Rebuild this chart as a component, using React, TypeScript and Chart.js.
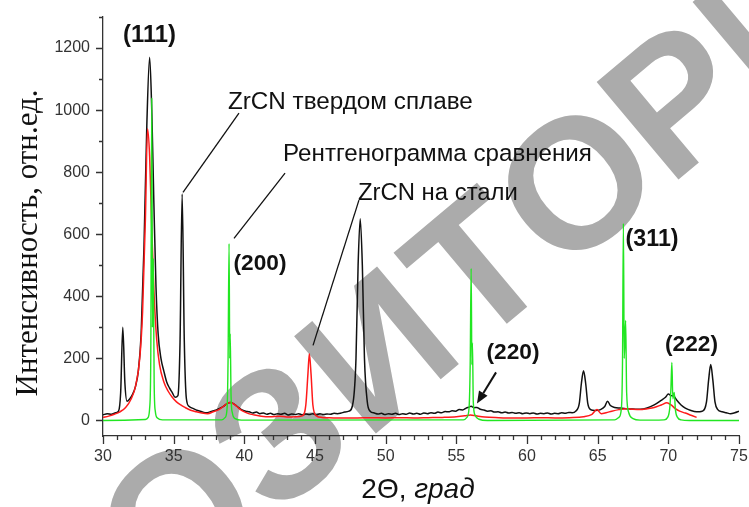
import React, { useEffect, useRef } from 'react';
import { Chart, registerables } from 'chart.js';

Chart.register(...registerables);

// ---------- axis ranges / ticks ----------
const X_MIN = 30;
const X_MAX = 75;
const Y_MIN = -50;
const Y_MAX = 1300;
const xTickValues = [30, 31, 32, 33, 34, 35, 36, 37, 38, 39, 40, 41, 42, 43, 44, 45, 46, 47, 48, 49, 50, 51, 52, 53, 54, 55, 56, 57, 58, 59, 60, 61, 62, 63, 64, 65, 66, 67, 68, 69, 70, 71, 72, 73, 74, 75];
const xLabelTicks = [30, 35, 40, 45, 50, 55, 60, 65, 70, 75];
const yTickValues = [0, 100, 200, 300, 400, 500, 600, 700, 800, 900, 1000, 1100, 1200, 1300];
const yLabelTicks = [0, 200, 400, 600, 800, 1000, 1200];

// ---------- titles ----------
const xTitleMain = '2Θ, ';
const xTitleUnit = 'град';
const yTitle = 'Интенсивность, отн.ед.';

// ---------- series: ZrCN на твердом сплаве (black), [2Θ, intensity] ----------
const hardAlloy: [number, number][] = [
  [30.0, 18], [30.3, 22], [30.6, 20], [30.9, 25], [31.1, 30], [31.25, 90], [31.4, 300], [31.55, 120], [31.7, 62],
  [31.9, 70], [32.1, 85], [32.3, 110], [32.5, 160], [32.7, 280], [32.9, 560], [33.1, 950], [33.3, 1170], [33.45, 1000],
  [33.6, 700], [33.75, 430], [33.9, 280], [34.1, 200], [34.3, 160], [34.5, 125], [34.7, 105], [34.9, 90], [35.1, 75],
  [35.3, 80], [35.45, 250], [35.6, 730], [35.75, 260], [35.9, 70], [36.1, 45], [36.4, 38], [36.7, 32], [37.0, 28],
  [37.3, 25], [37.6, 28], [37.9, 32], [38.2, 38], [38.5, 45], [38.8, 55], [39.0, 58], [39.2, 55], [39.5, 45], [39.8, 35],
  [40.1, 30], [40.35, 28], [40.6, 24], [40.85, 27], [41.1, 22], [41.35, 24], [41.6, 20], [41.85, 23], [42.1, 19],
  [42.35, 22], [42.6, 20], [42.85, 23], [43.1, 18], [43.35, 21], [43.6, 19], [43.85, 22], [44.1, 18], [44.35, 21],
  [44.6, 19], [44.85, 22], [45.1, 18], [45.35, 22], [45.6, 19], [45.85, 21], [46.1, 20], [46.35, 23], [46.6, 22],
  [46.85, 24], [47.1, 27], [47.4, 30], [47.7, 60], [47.9, 200], [48.05, 500], [48.2, 650], [48.35, 500], [48.5, 200],
  [48.7, 60], [48.9, 30], [49.2, 24], [49.45, 21], [49.7, 23], [49.95, 19], [50.2, 22], [50.45, 20], [50.7, 23],
  [50.95, 19], [51.2, 22], [51.45, 20], [51.7, 24], [51.95, 21], [52.2, 23], [52.45, 20], [52.7, 24], [52.95, 22],
  [53.2, 25], [53.45, 23], [53.7, 27], [53.95, 25], [54.2, 29], [54.45, 28], [54.7, 31], [54.95, 30], [55.2, 35],
  [55.45, 34], [55.7, 40], [55.9, 43], [56.05, 46], [56.25, 41], [56.45, 42], [56.7, 36], [56.95, 34], [57.2, 30],
  [57.45, 31], [57.7, 27], [57.95, 28], [58.2, 25], [58.45, 27], [58.7, 24], [58.95, 26], [59.2, 23], [59.45, 25],
  [59.7, 22], [59.95, 24], [60.2, 22], [60.45, 24], [60.7, 21], [60.95, 23], [61.2, 22], [61.45, 24], [61.7, 21],
  [61.95, 23], [62.2, 22], [62.45, 25], [62.7, 23], [62.95, 26], [63.2, 25], [63.45, 30], [63.7, 55], [63.85, 120],
  [64.0, 160], [64.15, 120], [64.3, 55], [64.5, 35], [64.8, 32], [65.2, 35], [65.5, 45], [65.7, 62], [65.9, 48],
  [66.2, 42], [66.6, 40], [67.0, 38], [67.5, 37], [68.0, 36], [68.5, 40], [69.0, 50], [69.5, 65], [69.8, 75],
  [70.0, 85], [70.2, 80], [70.4, 78], [70.6, 65], [70.9, 50], [71.2, 40], [71.6, 32], [72.0, 28], [72.4, 30],
  [72.7, 60], [72.85, 130], [73.0, 180], [73.15, 130], [73.3, 60], [73.5, 35], [73.8, 28], [74.1, 25], [74.4, 22],
  [74.7, 25], [75.0, 30],
];

// ---------- series: ZrCN на стали (red) ----------
const steel: [number, number][] = [
  [30.0, 10], [30.4, 14], [30.8, 20], [31.2, 28], [31.6, 42], [32.0, 70], [32.3, 110], [32.6, 200], [32.8, 350],
  [33.0, 650], [33.15, 940], [33.3, 850], [33.45, 620], [33.6, 420], [33.8, 260], [34.0, 180], [34.3, 125], [34.6, 95],
  [34.9, 75], [35.2, 60], [35.5, 50], [35.8, 42], [36.2, 33], [36.6, 28], [37.0, 24], [37.4, 22], [37.8, 28], [38.2, 35],
  [38.5, 45], [38.8, 55], [39.0, 58], [39.3, 52], [39.6, 40], [39.9, 30], [40.3, 22], [40.7, 18], [41.2, 14], [41.8, 12],
  [42.5, 14], [43.0, 11], [43.6, 12], [44.1, 15], [44.35, 50], [44.5, 150], [44.6, 215], [44.72, 150], [44.85, 50],
  [45.1, 15], [45.5, 10], [46.0, 9], [47.0, 8], [48.0, 8], [49.0, 9], [50.0, 8], [51.0, 9], [52.0, 8], [53.0, 9],
  [54.0, 10], [55.0, 12], [55.6, 15], [56.0, 18], [56.4, 15], [57.0, 11], [58.0, 9], [59.0, 8], [60.0, 8], [61.0, 9],
  [62.0, 8], [63.0, 9], [64.0, 12], [64.6, 20], [64.95, 35], [65.25, 22], [65.6, 25], [66.0, 30], [66.5, 35], [67.0, 38],
  [67.5, 36], [68.0, 35], [68.5, 38], [69.0, 42], [69.5, 50], [69.9, 57], [70.2, 50], [70.5, 38], [70.8, 30], [71.2, 24],
  [71.6, 17], [72.0, 10],
];

// ---------- series: Рентгенограмма сравнения (green) ----------
const reference: [number, number][] = [
  [30.0, 0], [33.0, 3], [33.2, 10], [33.3, 40], [33.38, 200], [33.45, 1040], [33.5, 300], [33.55, 520], [33.62, 120],
  [33.7, 30], [33.85, 8], [34.2, 2], [38.4, 2], [38.65, 10], [38.78, 40], [38.85, 200], [38.92, 570], [38.97, 200],
  [39.0, 280], [39.06, 80], [39.15, 25], [39.35, 6], [39.8, 1], [55.5, 2], [55.75, 10], [55.9, 40], [55.98, 180],
  [56.05, 490], [56.1, 180], [56.14, 250], [56.2, 60], [56.32, 18], [56.6, 4], [57.2, 0], [66.2, 2], [66.5, 10],
  [66.68, 40], [66.76, 200], [66.82, 635], [66.88, 200], [66.98, 322], [67.05, 90], [67.2, 25], [67.5, 6], [68.0, 1],
  [69.7, 2], [69.95, 10], [70.1, 40], [70.18, 100], [70.25, 187], [70.32, 70], [70.42, 90], [70.5, 35], [70.65, 10],
  [70.9, 2], [71.5, 0], [75.0, 0],
];

// ---------- annotations ----------
const peakLabels = ['(111)', '(200)', '(220)', '(311)', '(222)'];
const peakLabelX = [33.29, 41.11, 59.01, 68.85, 71.64];
const peakLabelY = [1242, 506, 219, 584, 245];

const calloutTexts = ['ZrCN твердом сплаве', 'Рентгенограмма сравнения', 'ZrCN на стали'];
const calloutTextX = [38.84, 42.74, 48.04];
const calloutTextY = [1003, 835, 710];
const calloutLineFromX = [39.62, 42.88, 48.11];
const calloutLineFromY = [990, 797, 710];
const calloutLineToX = [35.66, 39.27, 44.86];
const calloutLineToY = [735, 587, 242];

const arrowFromX = 57.81;
const arrowFromY = 155;
const arrowToX = 56.46;
const arrowToY = 55;

const watermarkText = 'РЕПОЗИТОРИЙ';

const toPoints = (pairs: [number, number][]) => pairs.map(([x, y]) => ({ x, y }));

const SANS = '"Liberation Sans", Arial, sans-serif';
const SERIF = '"Liberation Serif", "Times New Roman", serif';

function fitSize(ctx: CanvasRenderingContext2D, text: string, prefix: string, family: string, targetW: number) {
  ctx.font = `${prefix} 100px ${family}`;
  const w = ctx.measureText(text).width;
  return (100 * targetW) / w;
}

const overlayPlugin = {
  id: 'overlay',
  beforeDraw(chart: any) {
    const { ctx } = chart;
    ctx.save();
    ctx.font = `bold 185px ${SANS}`;
    ctx.textAlign = 'center';
    ctx.textBaseline = 'middle';
    ctx.lineJoin = 'round';
    ctx.lineWidth = 4;
    ctx.strokeStyle = '#ffffff';
    ctx.fillStyle = '#ababab';
    const ang = (40 * Math.PI) / 180;
    const step = 130;
    const zIndex = watermarkText.indexOf('З');
    Array.from(watermarkText).forEach((ch, i) => {
      const d = (i - zIndex) * step;
      const cx = 280 + d * Math.cos(ang);
      const cy = 437 - d * Math.sin(ang);
      ctx.save();
      ctx.translate(cx, cy);
      ctx.rotate(-ang);
      ctx.strokeText(ch, 0, 8);
      ctx.fillText(ch, 0, 8);
      ctx.restore();
    });
    ctx.restore();
  },
  beforeDatasetsDraw(chart: any) {
    const { ctx, scales } = chart;
    const xs = scales.x;
    const ys = scales.y;
    const area = chart.chartArea;
    ctx.save();
    ctx.strokeStyle = '#333';
    ctx.lineWidth = 1.3;
    ctx.beginPath();
    yTickValues.forEach((v) => {
      const p = Math.round(ys.getPixelForValue(v)) + 0.5;
      const len = v % 200 === 0 ? 7 : 4;
      ctx.moveTo(area.left - len, p);
      ctx.lineTo(area.left, p);
    });
    xTickValues.forEach((v) => {
      const p = Math.round(xs.getPixelForValue(v)) + 0.5;
      const len = v % 5 === 0 ? 8 : 4;
      ctx.moveTo(p, area.bottom);
      ctx.lineTo(p, area.bottom + len);
    });
    ctx.stroke();
    ctx.restore();
  },
  afterDatasetsDraw(chart: any) {
    const { ctx, scales } = chart;
    const xs = scales.x;
    const ys = scales.y;
    const X = (v: number) => xs.getPixelForValue(v);
    const Y = (v: number) => ys.getPixelForValue(v);
    ctx.save();
    ctx.fillStyle = '#111';
    ctx.strokeStyle = '#111';

    ctx.textAlign = 'center';
    ctx.textBaseline = 'middle';
    peakLabels.forEach((t, i) => {
      const s = fitSize(ctx, t, 'bold', SANS, 53);
      ctx.font = `bold ${s}px ${SANS}`;
      ctx.fillText(t, X(peakLabelX[i]), Y(peakLabelY[i]));
    });

    const calloutWidths = [245, 309, 160];
    ctx.textAlign = 'left';
    ctx.textBaseline = 'alphabetic';
    calloutTexts.forEach((t, i) => {
      const s = fitSize(ctx, t, '', SANS, calloutWidths[i]);
      ctx.font = `${s}px ${SANS}`;
      ctx.fillText(t, X(calloutTextX[i]), Y(calloutTextY[i]));
      ctx.lineWidth = 1.3;
      ctx.beginPath();
      ctx.moveTo(X(calloutLineFromX[i]), Y(calloutLineFromY[i]));
      ctx.lineTo(X(calloutLineToX[i]), Y(calloutLineToY[i]));
      ctx.stroke();
    });

    const ax0 = X(arrowFromX), ay0 = Y(arrowFromY);
    const ax1 = X(arrowToX), ay1 = Y(arrowToY);
    const ang = Math.atan2(ay1 - ay0, ax1 - ax0);
    const headLen = 12;
    const bx = ax1 - headLen * Math.cos(ang);
    const by = ay1 - headLen * Math.sin(ang);
    ctx.lineWidth = 2;
    ctx.beginPath();
    ctx.moveTo(ax0, ay0);
    ctx.lineTo(bx, by);
    ctx.stroke();
    ctx.beginPath();
    ctx.moveTo(ax1, ay1);
    ctx.lineTo(bx + 5 * Math.sin(ang), by - 5 * Math.cos(ang));
    ctx.lineTo(bx - 5 * Math.sin(ang), by + 5 * Math.cos(ang));
    ctx.closePath();
    ctx.fill();
    ctx.restore();
  },
  afterDraw(chart: any) {
    const { ctx } = chart;
    ctx.save();
    ctx.fillStyle = '#111';
    const ys = fitSize(ctx, yTitle, '', SERIF, 307);
    ctx.font = `${ys}px ${SERIF}`;
    ctx.translate(37, 243);
    ctx.rotate(-Math.PI / 2);
    ctx.textAlign = 'center';
    ctx.textBaseline = 'alphabetic';
    ctx.fillText(yTitle, 0, 0);
    ctx.restore();

    ctx.save();
    ctx.fillStyle = '#111';
    const size = 28;
    ctx.font = `${size}px ${SANS}`;
    const w1 = ctx.measureText(xTitleMain).width;
    ctx.font = `italic ${size}px ${SANS}`;
    const w2 = ctx.measureText(xTitleUnit).width;
    const cx = 418;
    const start = cx - (w1 + w2) / 2;
    ctx.textBaseline = 'alphabetic';
    ctx.textAlign = 'left';
    ctx.font = `${size}px ${SANS}`;
    ctx.fillText(xTitleMain, start, 498);
    ctx.font = `italic ${size}px ${SANS}`;
    ctx.fillText(xTitleUnit, start + w1, 498);
    ctx.restore();
  },
};

const zeroPadding = (s: any) => {
  s.paddingTop = 0;
  s.paddingBottom = 0;
  s.paddingLeft = 0;
  s.paddingRight = 0;
};

export default function App() {
  const ref = useRef<HTMLCanvasElement | null>(null);
  useEffect(() => {
    document.body.style.margin = '0';
    const canvas = ref.current;
    if (!canvas) return;
    const chart = new Chart(canvas, {
      type: 'line',
      data: {
        datasets: [
          {
            label: 'Рентгенограмма сравнения',
            data: toPoints(reference),
            borderColor: '#22e622',
            borderWidth: 1.4,
            pointRadius: 0,
            cubicInterpolationMode: 'monotone',
            order: 0,
          },
          {
            label: 'ZrCN на стали',
            data: toPoints(steel),
            borderColor: '#ff1a1a',
            borderWidth: 1.5,
            pointRadius: 0,
            cubicInterpolationMode: 'monotone',
            order: 1,
          },
          {
            label: 'ZrCN твердом сплаве',
            data: toPoints(hardAlloy),
            borderColor: '#111111',
            borderWidth: 1.5,
            pointRadius: 0,
            cubicInterpolationMode: 'monotone',
            order: 2,
          },
        ],
      },
      options: {
        animation: false,
        responsive: false,
        maintainAspectRatio: false,
        layout: { padding: { top: 17, right: 10, left: 0, bottom: 0 } },
        plugins: { legend: { display: false }, tooltip: { enabled: false }, title: { display: false } },
        scales: {
          x: {
            type: 'linear',
            min: X_MIN,
            max: X_MAX,
            afterBuildTicks: (s: any) => {
              s.ticks = xTickValues.map((v) => ({ value: v }));
            },
            afterFit: (s: any) => {
              s.height = 71;
              zeroPadding(s);
            },
            grid: { display: false, drawTicks: false },
            border: { display: true, color: '#333', width: 1.3 },
            ticks: {
              autoSkip: false,
              maxRotation: 0,
              padding: 11,
              color: '#333',
              font: { family: SANS, size: 16 },
              callback: (v: any) => (xLabelTicks.includes(Number(v)) ? String(v) : ''),
            },
          },
          y: {
            type: 'linear',
            min: Y_MIN,
            max: Y_MAX,
            afterBuildTicks: (s: any) => {
              s.ticks = yTickValues.map((v) => ({ value: v }));
            },
            afterFit: (s: any) => {
              s.width = 103;
              zeroPadding(s);
            },
            grid: { display: false, drawTicks: false },
            border: { display: true, color: '#333', width: 1.3 },
            ticks: {
              autoSkip: false,
              padding: 13,
              color: '#333',
              font: { family: SANS, size: 16 },
              callback: (v: any) => (yLabelTicks.includes(Number(v)) ? String(v) : ''),
            },
          },
        },
      },
      plugins: [overlayPlugin],
    } as any);
    return () => chart.destroy();
  }, []);
  return (
    <div style={{ position: 'absolute', left: 0, top: 0, width: 749, height: 507 }}>
      <canvas ref={ref} width={749} height={507} style={{ width: 749, height: 507 }} />
    </div>
  );
}
